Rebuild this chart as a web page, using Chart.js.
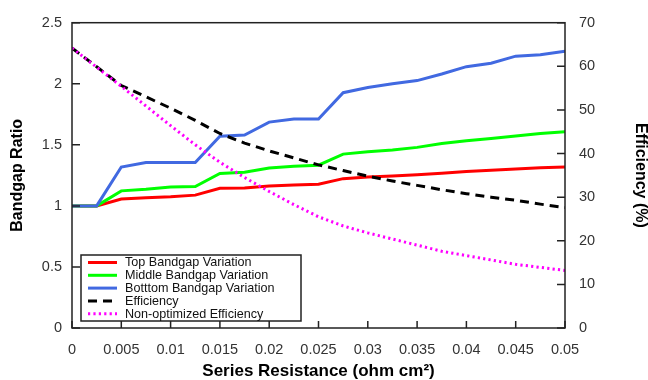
<!DOCTYPE html>
<html>
<head>
<meta charset="utf-8">
<script src="https://cdn.jsdelivr.net/npm/chart.js@4.4.1/dist/chart.umd.min.js"></script>
<style>
html,body{margin:0;padding:0;background:#fff;}
#wrap{width:648px;height:380px;}
</style>
</head>
<body>
<div id="wrap"><canvas id="c" width="648" height="380"></canvas></div>
<script>
const resistance = [0,0.0025,0.005,0.0075,0.01,0.0125,0.015,0.0175,0.02,0.0225,0.025,0.0275,0.03,0.0325,0.035,0.0375,0.04,0.0425,0.045,0.0475,0.05];
const topBandgap = [1.0,1.0,1.056,1.067,1.074,1.088,1.144,1.147,1.163,1.171,1.177,1.223,1.236,1.244,1.254,1.268,1.281,1.292,1.302,1.313,1.318];
const middleBandgap = [1.0,1.0,1.123,1.136,1.155,1.158,1.265,1.276,1.31,1.324,1.333,1.424,1.444,1.457,1.479,1.511,1.533,1.551,1.573,1.592,1.608];
const bottomBandgap = [1.0,1.0,1.318,1.356,1.356,1.356,1.57,1.58,1.686,1.712,1.712,1.927,1.97,2.0,2.026,2.08,2.14,2.168,2.226,2.237,2.267];
const efficiency = [64.2,59.9,55.6,53.0,50.4,47.6,44.6,42.4,40.6,39.0,37.4,36.1,34.8,33.7,32.7,31.7,30.8,30.0,29.3,28.4,27.6];
const nonOptEfficiency = [64.2,59.8,55.4,50.9,46.4,42.0,38.0,34.5,31.3,28.3,25.5,23.4,21.8,20.4,19.0,17.6,16.6,15.6,14.6,13.9,13.2];
const seriesNames = ['Top Bandgap Variation','Middle Bandgap Variation','Botttom Bandgap Variation','Efficiency','Non-optimized Efficiency'];
const xTicks = [0,0.005,0.01,0.015,0.02,0.025,0.03,0.035,0.04,0.045,0.05];
const leftTicks = [0,0.5,1,1.5,2,2.5];
const rightTicks = [0,10,20,30,40,50,60,70];

function pts(ys){ return resistance.map((x,i)=>({x:x,y:ys[i]})); }

const styles = [
  {color:'#ff0000', dash:[], width:3},
  {color:'#00ff00', dash:[], width:3},
  {color:'#4169e1', dash:[], width:3},
  {color:'#000000', dash:[9,6], width:3},
  {color:'#ff00ff', dash:[2.2,3.2], width:3}
];

const frameLegend = {
  id:'frameLegend',
  afterDatasetsDraw(chart){
    const ctx = chart.ctx, a = chart.chartArea;
    const xs = chart.scales.x, yl = chart.scales.y, yr = chart.scales.y1;
    ctx.save();
    ctx.strokeStyle = '#222';
    ctx.lineWidth = 1.5;
    ctx.setLineDash([]);
    ctx.strokeRect(a.left, a.top, a.right - a.left, a.bottom - a.top);
    ctx.beginPath();
    xTicks.forEach(v=>{ const px = xs.getPixelForValue(v); ctx.moveTo(px, a.bottom); ctx.lineTo(px, a.bottom - 7); });
    leftTicks.forEach(v=>{ const py = yl.getPixelForValue(v); ctx.moveTo(a.left, py); ctx.lineTo(a.left + 8, py); });
    rightTicks.forEach(v=>{ const py = yr.getPixelForValue(v); ctx.moveTo(a.right, py); ctx.lineTo(a.right - 8, py); });
    ctx.stroke();

    // legend box inside plot area
    const bx = a.left + 9, by = a.bottom - 73, bw = 220, bh = 66;
    ctx.fillStyle = '#fff';
    ctx.fillRect(bx, by, bw, bh);
    ctx.strokeStyle = '#222';
    ctx.lineWidth = 1.5;
    ctx.strokeRect(bx, by, bw, bh);
    ctx.font = '12.6px "Liberation Sans", Arial, sans-serif';
    ctx.textBaseline = 'middle';
    ctx.fillStyle = '#111';
    seriesNames.forEach((name,i)=>{
      const cy = by + 7.5 + i*12.8;
      const st = styles[i];
      ctx.beginPath();
      ctx.strokeStyle = st.color;
      ctx.lineWidth = st.width;
      ctx.setLineDash(st.dash);
      ctx.moveTo(bx + 7, cy);
      ctx.lineTo(bx + 36, cy);
      ctx.stroke();
      ctx.setLineDash([]);
      ctx.fillText(name, bx + 44, cy + 0.5);
    });
    ctx.restore();
  }
};

const datasets = [
  {label:seriesNames[4], data:pts(nonOptEfficiency), yAxisID:'y1', borderColor:styles[4].color, borderDash:styles[4].dash, borderWidth:3, pointRadius:0, fill:false, tension:0, borderCapStyle:'butt'},
  {label:seriesNames[3], data:pts(efficiency), yAxisID:'y1', borderColor:styles[3].color, borderDash:styles[3].dash, borderWidth:3, pointRadius:0, fill:false, tension:0},
  {label:seriesNames[2], data:pts(bottomBandgap), yAxisID:'y', borderColor:styles[2].color, borderWidth:3, pointRadius:0, fill:false, tension:0},
  {label:seriesNames[1], data:pts(middleBandgap), yAxisID:'y', borderColor:styles[1].color, borderWidth:3, pointRadius:0, fill:false, tension:0},
  {label:seriesNames[0], data:pts(topBandgap), yAxisID:'y', borderColor:styles[0].color, borderWidth:3, pointRadius:0, fill:false, tension:0}
];

const tickFont = {family:'"Liberation Sans", Arial, sans-serif', size:14.5};
const titleFont = {family:'"Liberation Sans", Arial, sans-serif', size:16, weight:'bold'};
const xTitleFont = {family:'"Liberation Sans", Arial, sans-serif', size:17, weight:'bold'};

new Chart(document.getElementById('c'), {
  type:'line',
  data:{datasets:datasets},
  options:{
    responsive:false,
    animation:false,
    layout:{padding:{top:17,left:0,right:0,bottom:0}},
    plugins:{legend:{display:false}, tooltip:{enabled:false}},
    scales:{
      x:{
        type:'linear', min:0, max:0.05,
        afterBuildTicks(s){ s.ticks = xTicks.map(v=>({value:v})); },
        afterFit(s){ s.height = 52; },
        grid:{display:false, drawTicks:false},
        border:{display:false},
        ticks:{font:tickFont, color:'#333', padding:13, maxRotation:0, autoSkip:false,
          callback:(v)=>String(Number(v.toFixed(4)))},
        title:{display:true, text:'Series Resistance (ohm cm²)', font:xTitleFont, color:'#000', padding:{top:0,bottom:-1.5}}
      },
      y:{
        type:'linear', position:'left', min:0, max:2.5,
        afterBuildTicks(s){ s.ticks = leftTicks.map(v=>({value:v})); },
        afterFit(s){ s.width = 72; },
        grid:{display:false, drawTicks:false},
        border:{display:false},
        ticks:{font:tickFont, color:'#333', padding:10, callback:(v)=>String(v)},
        title:{display:true, text:'Bandgap Ratio', font:titleFont, color:'#000', padding:{top:8.4,bottom:0}}
      },
      y1:{
        type:'linear', position:'right', min:0, max:70,
        afterBuildTicks(s){ s.ticks = rightTicks.map(v=>({value:v})); },
        afterFit(s){ s.width = 83; },
        grid:{display:false, drawTicks:false},
        border:{display:false},
        ticks:{font:tickFont, color:'#333', padding:14, callback:(v)=>String(v)},
        title:{display:true, text:'Efficiency (%)', font:titleFont, color:'#000', padding:{top:-1.6,bottom:0}}
      }
    }
  },
  plugins:[frameLegend]
});
</script>
</body>
</html>
